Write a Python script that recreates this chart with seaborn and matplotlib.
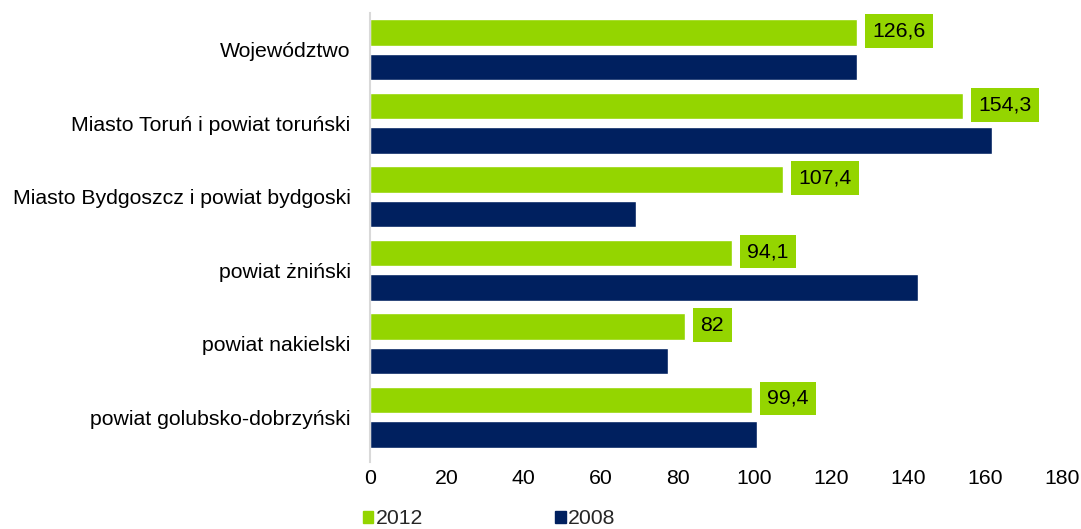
import numpy as np
import pandas as pd
import matplotlib
matplotlib.use("Agg")
import matplotlib.pyplot as plt
import seaborn as sns
from matplotlib.patches import Patch

regiony = ["Województwo",
           "Miasto Toruń i powiat toruński",
           "Miasto Bydgoszcz i powiat bydgoski",
           "powiat żniński",
           "powiat nakielski",
           "powiat golubsko-dobrzyński"]
wart_2012 = [126.6, 154.3, 107.4, 94.1, 82.0, 99.4]
wart_2008 = [126.7, 161.7, 69.1, 142.5, 77.4, 100.7]
etykiety_2012 = ["126,6", "154,3", "107,4", "94,1", "82", "99,4"]
lata = ["2012", "2008"]

kolory = {"2012": "#94D500", "2008": "#00205F"}

dane = pd.DataFrame({
    "Region": regiony * 2,
    "Rok": ["2012"] * len(regiony) + ["2008"] * len(regiony),
    "Wartosc": wart_2012 + wart_2008,
})

sns.set_style("white")
plt.rcParams["font.family"] = ["Liberation Sans", "DejaVu Sans"]
fs = 15.3

fig = plt.figure(figsize=(10.81, 5.29), dpi=100)
ax = fig.add_axes([0.3423, 0.1267, 0.9824 - 0.3423, 0.9754 - 0.1267])

sns.barplot(data=dane, y="Region", x="Wartosc", hue="Rok", hue_order=lata,
            palette=kolory, orient="h", width=0.94, gap=0.23, legend=False,
            saturation=1, ax=ax)

# etykiety tylko dla 2012
for bar, txt in zip(ax.containers[0], etykiety_2012):
    w = bar.get_width()
    yc = bar.get_y() + bar.get_height() / 2
    ax.annotate(txt, xy=(w, yc), xytext=(11, 1), textcoords="offset points",
                va="center", ha="left", fontsize=fs, color="black",
                bbox=dict(boxstyle="square,pad=0.35", fc=kolory["2012"], ec="none"))

ax.set_xlim(0, 180)
ax.set_ylim(5.61, -0.5)
ax.set_xticks(np.arange(0, 181, 20))
ax.set_xlabel("")
ax.set_ylabel("")
ax.tick_params(axis="both", length=0, labelsize=fs, colors="black")
ax.tick_params(axis="x", pad=5)
ax.tick_params(axis="y", pad=14)
for s in ["top", "right", "bottom"]:
    ax.spines[s].set_visible(False)
ax.spines["left"].set_color("#D9D9D9")
ax.spines["left"].set_linewidth(1.5)

uchwyty = [Patch(color=kolory[r], label=r) for r in lata]
fig.legend(handles=uchwyty, loc="center left", bbox_to_anchor=(0.3256, 0.019),
           ncol=2, frameon=False, fontsize=fs, handlelength=0.5,
           handleheight=0.5, handletextpad=0.12, columnspacing=6.2,
           borderpad=0)

fig.savefig("out.png", dpi=100)
